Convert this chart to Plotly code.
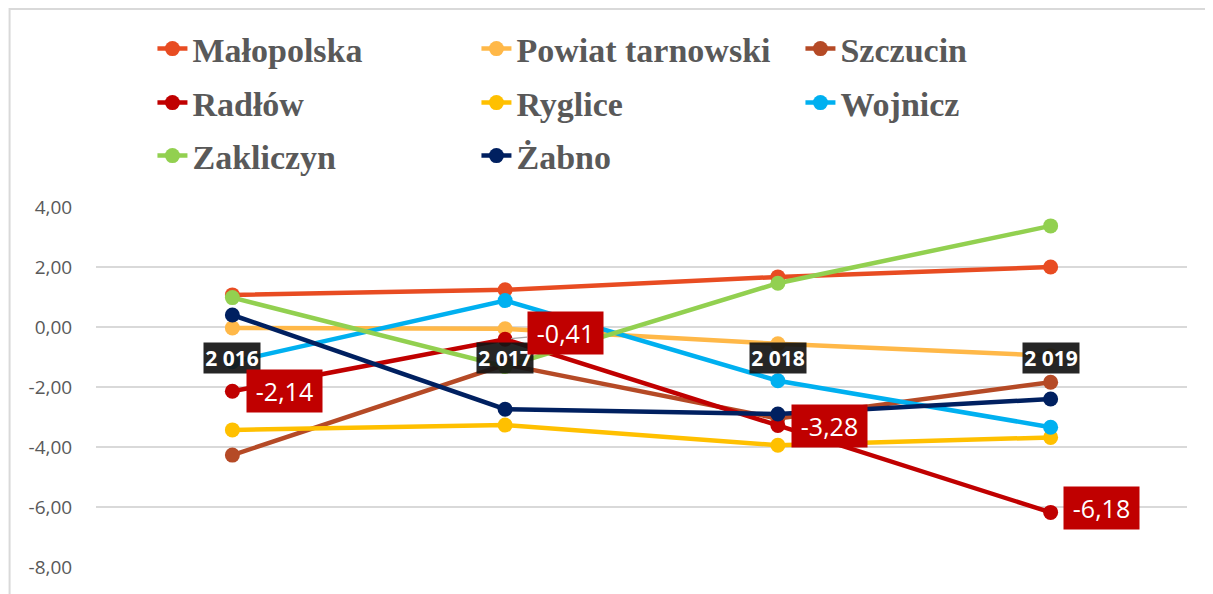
import plotly.graph_objects as go

categories = ["2 016", "2 017", "2 018", "2 019"]

series_names = ["Małopolska", "Powiat tarnowski", "Szczucin", "Radłów",
                "Ryglice", "Wojnicz", "Zakliczyn", "Żabno"]

malopolska = [1.07, 1.24, 1.67, 2.00]
powiat_tarnowski = [-0.03, -0.06, -0.56, -0.96]
szczucin = [-4.27, -1.25, -3.05, -1.84]
radlow = [-2.14, -0.41, -3.28, -6.18]
ryglice = [-3.43, -3.27, -3.94, -3.68]
wojnicz = [-1.16, 0.88, -1.79, -3.34]
zakliczyn = [0.98, -1.32, 1.46, 3.37]
zabno = [0.40, -2.74, -2.90, -2.40]

values = [malopolska, powiat_tarnowski, szczucin, radlow,
          ryglice, wojnicz, zakliczyn, zabno]

colors = ["#E84C22", "#FFB848", "#B54A26", "#C00000",
          "#FFC000", "#00B0F0", "#92D050", "#002060"]

legend_ids = ["legend", "legend", "legend",
              "legend2", "legend2", "legend2",
              "legend3", "legend3"]

y_ticks = [-8, -6, -4, -2, 0, 2, 4]
y_tick_text = ["-8,00", "-6,00", "-4,00", "-2,00", "0,00", "2,00", "4,00"]

# layout geometry (screen pixels); page body has an 8px margin
OFF = 8
W, H = 1213, 594
PLOT_L, PLOT_R, PLOT_T, PLOT_B = 95.5, 1187.5, 207, 567
L = PLOT_L - OFF
T = PLOT_T - OFF
R = W - (PLOT_R - OFF)
B = H - (PLOT_B - OFF)
PW = PLOT_R - PLOT_L
PH = PLOT_B - PLOT_T

fig = go.Figure()
for name, vals, col, lg in zip(series_names, values, colors, legend_ids):
    fig.add_trace(go.Scatter(
        x=categories, y=vals, name=name, mode="lines+markers",
        line=dict(color=col, width=4.5),
        marker=dict(color=col, size=15),
        legend=lg,
    ))

annotations = []
# category labels (black boxes) placed just below the zero line
for c in categories:
    annotations.append(dict(
        x=c, y=0, xref="x", yref="y", yshift=-31,
        text="<b>" + c + "</b>", showarrow=False,
        font=dict(family="Open Sans", size=21, color="white"),
        bgcolor="rgba(20,20,20,0.92)", width=56, height=30,
        borderpad=0,
    ))

# Radłów data labels
label_offsets = [(52, 0, False), (57, 6, True), (52, -1, False), (51, 4, False)]
for c, v, (dx, dy, arrow) in zip(categories, radlow, label_offsets):
    txt = f"{v:.2f}".replace(".", ",")
    a = dict(
        x=c, y=v, xref="x", yref="y", text=txt,
        font=dict(family="Open Sans", size=25, color="white"),
        bgcolor="#C00000", width=75, height=42, borderpad=0,
    )
    if arrow:
        a.update(showarrow=True, ax=dx + 3, ay=-dy, arrowhead=0,
                 arrowcolor="#a6a6a6", arrowwidth=1.2, standoff=6)
    else:
        a.update(showarrow=False, xshift=dx, yshift=dy)
    annotations.append(a)

def px_to_paper_x(px):
    return (px - PLOT_L) / PW

def px_to_paper_y(py):
    return (PLOT_B - py) / PH

legend_font = dict(family="Liberation Serif", size=34, color="#595959", weight="bold")
legend_common = dict(orientation="h", xanchor="left", yanchor="middle",
                     x=px_to_paper_x(152), font=legend_font,
                     entrywidth=279, entrywidthmode="pixels",
                     bgcolor="rgba(0,0,0,0)", itemclick=False, itemdoubleclick=False)

fig.update_layout(
    width=W, height=H,
    margin=dict(l=L, r=R, t=T, b=B, pad=0),
    paper_bgcolor="white", plot_bgcolor="white",
    showlegend=True,
    legend=dict(legend_common, y=px_to_paper_y(49)),
    legend2=dict(legend_common, y=px_to_paper_y(103)),
    legend3=dict(legend_common, y=px_to_paper_y(156)),
    xaxis=dict(type="category", range=[-0.5, 3.5], showticklabels=False,
               showgrid=False, zeroline=False, showline=False, fixedrange=True),
    yaxis=dict(range=[-8, 4], tickvals=y_ticks, ticktext=y_tick_text,
               showgrid=True, gridcolor="#D9D9D9", gridwidth=1.6,
               zeroline=False, showline=False,
               ticks="outside", ticklen=19, tickcolor="rgba(0,0,0,0)",
               tickfont=dict(family="Open Sans", size=19, color="#595959"),
               fixedrange=True),
    annotations=annotations,
    shapes=[dict(type="rect", xref="paper", yref="paper",
                 x0=px_to_paper_x(9), x1=px_to_paper_x(W + 20),
                 y0=px_to_paper_y(H + 20), y1=px_to_paper_y(9),
                 line=dict(color="#D9D9D9", width=2), layer="below")],
)

fig.write_html("out.html", config={"displayModeBar": False})
